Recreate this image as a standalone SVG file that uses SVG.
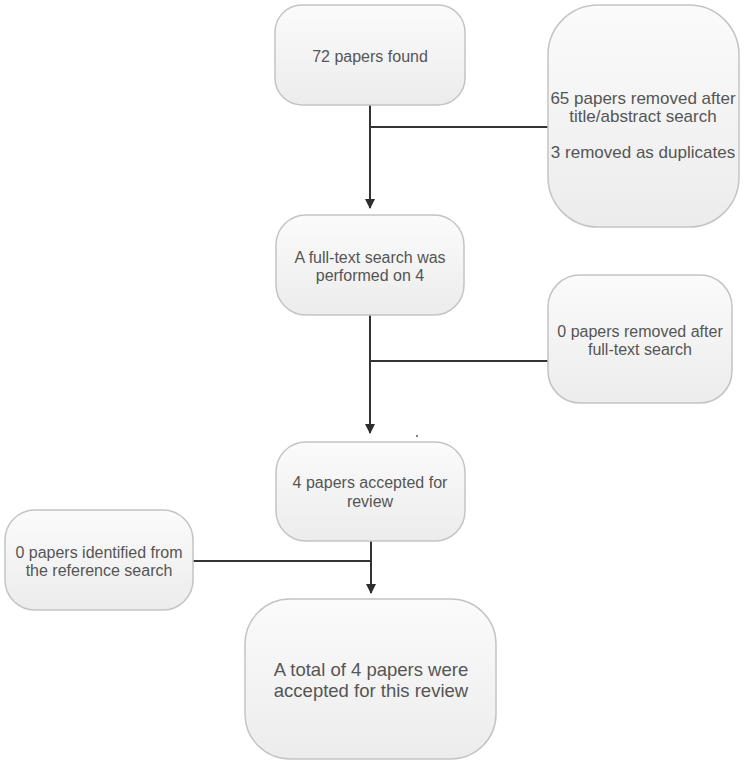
<svg xmlns="http://www.w3.org/2000/svg" width="744" height="767" viewBox="0 0 744 767">
<defs>
<linearGradient id="g" x1="0" y1="0" x2="0" y2="1">
<stop offset="0" stop-color="#fbfbfb"/>
<stop offset="1" stop-color="#ececec"/>
</linearGradient>
<marker id="arr" viewBox="0 0 10 10" refX="9" refY="5" markerWidth="5" markerHeight="5" orient="auto" markerUnits="strokeWidth">
<path d="M0,0 L10,5 L0,10 z" fill="#2e2e2e"/>
</marker>
<style>
.box{fill:url(#g);stroke:#c4c4c4;stroke-width:1.5}
.t{font-family:"Liberation Sans",Arial,sans-serif;font-size:16px;fill:#555;text-anchor:middle}
.c{fill:none;stroke:#333;stroke-width:2}
</style>
</defs>
<rect width="744" height="767" fill="#fff"/>
<g id="connectors">
<path class="c" d="M370,105 V208" marker-end="url(#arr)"/>
<path class="c" d="M370,127 H548"/>
<path class="c" d="M370,315 V433" marker-end="url(#arr)"/>
<path class="c" d="M370,361 H548"/>
<path class="c" d="M371,541 V593" marker-end="url(#arr)"/>
<path class="c" d="M193,561 H371"/>
<circle cx="417" cy="436" r="1" fill="#555"/>
</g>
<g id="n1">
<rect class="box" x="275" y="5" width="190" height="100" rx="27"/>
<text class="t" x="370" y="62">72 papers found</text>
</g>
<g id="n2">
<rect class="box" x="548" y="5" width="191" height="222" rx="50"/>
<text class="t" x="643" y="104" style="font-size:17px">65 papers removed after</text>
<text class="t" x="643" y="122" style="font-size:17px">title/abstract search</text>
<text class="t" x="643" y="158" style="font-size:17px">3 removed as duplicates</text>
</g>
<g id="n3">
<rect class="box" x="276" y="215" width="188" height="100" rx="30"/>
<text class="t" x="370" y="263">A full-text search was</text>
<text class="t" x="370" y="281">performed on 4</text>
</g>
<g id="n4">
<rect class="box" x="548" y="275" width="184" height="128" rx="32"/>
<text class="t" x="640" y="337">0 papers removed after</text>
<text class="t" x="640" y="355">full-text search</text>
</g>
<g id="n5">
<rect class="box" x="276" y="442" width="189" height="99" rx="30"/>
<text class="t" x="370" y="488">4 papers accepted for</text>
<text class="t" x="370" y="507">review</text>
</g>
<g id="n6">
<rect class="box" x="5" y="510" width="188" height="100" rx="30"/>
<text class="t" x="99" y="558">0 papers identified from</text>
<text class="t" x="99" y="576">the reference search</text>
</g>
<g id="n7">
<rect class="box" x="245" y="599" width="251" height="160" rx="45"/>
<text class="t" x="371" y="676" style="font-size:18.5px">A total of 4 papers were</text>
<text class="t" x="371" y="697" style="font-size:18.5px">accepted for this review</text>
</g>
</svg>
